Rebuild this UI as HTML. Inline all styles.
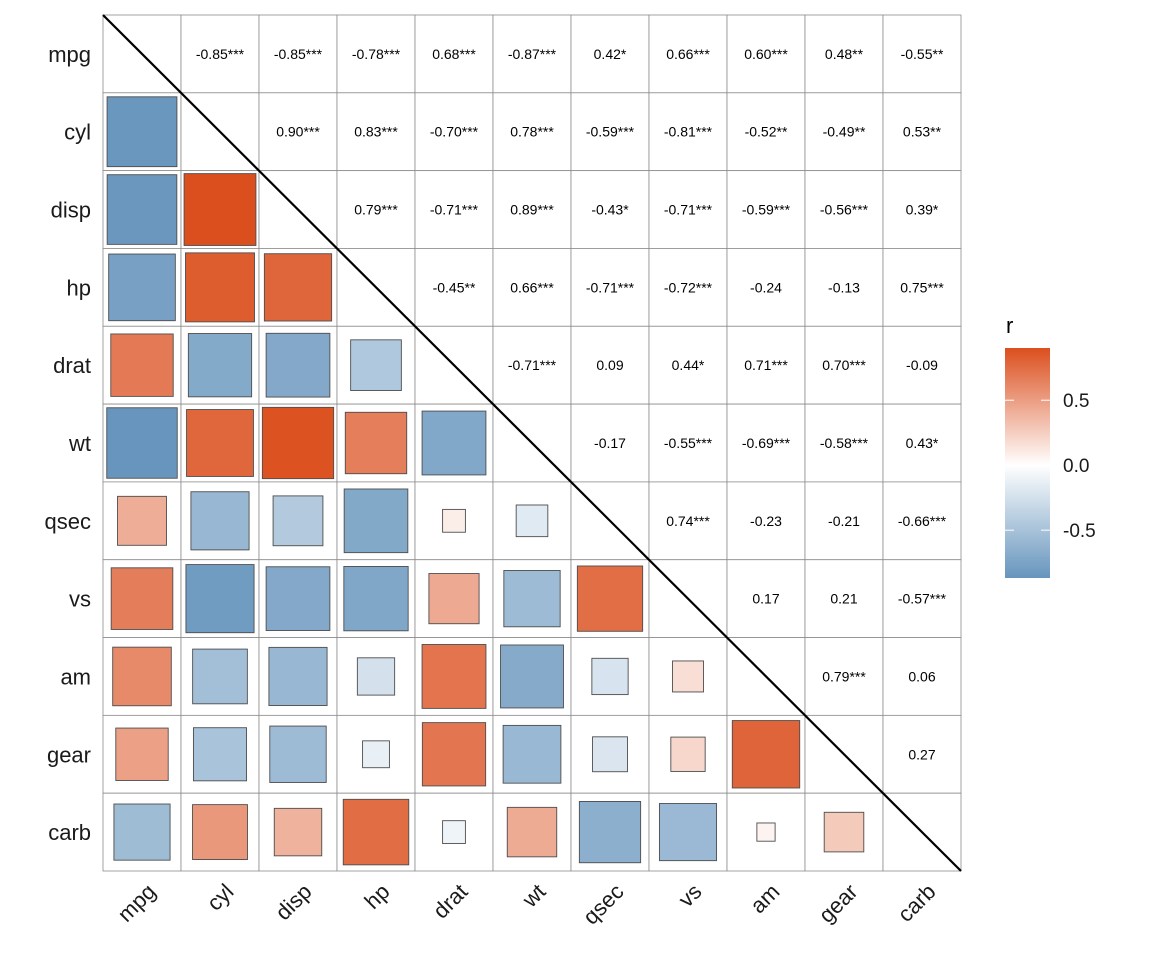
<!DOCTYPE html>
<html><head><meta charset="utf-8"><style>
html,body{margin:0;padding:0;background:#fff;}
svg{display:block;font-family:"Liberation Sans",Arial,sans-serif;}
</style></head><body>
<svg id="chart" width="1152" height="960" viewBox="0 0 1152 960" xmlns="http://www.w3.org/2000/svg">
<defs><linearGradient id="grad" x1="0" y1="1" x2="0" y2="0">
<stop offset="0" stop-color="#6795bd"/><stop offset="0.49" stop-color="#ffffff"/><stop offset="1" stop-color="#db4f1e"/>
</linearGradient></defs>
<g id="cells"></g>
</svg>
<script>
const vars = ["mpg","cyl","disp","hp","drat","wt","qsec","vs","am","gear","carb"];
const corrRows = [
 [-0.852,-0.848,-0.776,0.681,-0.868,0.419,0.664,0.600,0.480,-0.551],
 [0.902,0.832,-0.700,0.782,-0.591,-0.811,-0.523,-0.493,0.527],
 [0.791,-0.710,0.888,-0.434,-0.710,-0.591,-0.556,0.394],
 [-0.449,0.659,-0.708,-0.723,-0.243,-0.126,0.750],
 [-0.712,0.091,0.440,0.713,0.700,-0.091],
 [-0.175,-0.554,-0.692,-0.583,0.428],
 [0.745,-0.230,-0.213,-0.656],
 [0.168,0.206,-0.570],
 [0.794,0.058],
 [0.274]
];
const starRows = [
 ["***","***","***","***","***","*","***","***","**","**"],
 ["***","***","***","***","***","***","**","**","**"],
 ["***","***","***","*","***","***","***","*"],
 ["**","***","***","***","","","***"],
 ["***","","*","***","***",""],
 ["","***","***","***","*"],
 ["***","","","***"],
 ["","","***"],
 ["***",""],
 [""]
];
const legendTicks = [0.5, 0.0, -0.5];

const NS="http://www.w3.org/2000/svg";
const g=document.getElementById('cells');
const x0=103,x1=961,y0=15,y1=871,n=vars.length;
const cw=(x1-x0)/n, ch=(y1-y0)/n;
const all=corrRows.flat();
const rmin=Math.min(...all), rmax=Math.max(...all);
function mk(t,a,p){const e=document.createElementNS(NS,t);for(const k in a)e.setAttribute(k,a[k]);(p||g).appendChild(e);return e;}
function lerp(a,b,t){return a.map((v,i)=>Math.round(v+(b[i]-v)*t));}
function color(r){const lo=[103,149,189],hi=[219,79,30],w=[255,255,255];
 const c=r<0?lerp(w,lo,r/rmin):lerp(w,hi,r/rmax);return `rgb(${c[0]},${c[1]},${c[2]})`;}
function corr(i,j){if(i>j)[i,j]=[j,i];return corrRows[i][j-i-1];}
function stars(i,j){return starRows[i][j-i-1];}
for(let i=0;i<n;i++)for(let j=0;j<n;j++){
 const cx=x0+j*cw, cy=y0+i*ch;
 const cell=mk('rect',{x:cx,y:cy,width:cw,height:ch,fill:'#fff',stroke:'#8c8c8c','stroke-width':0.8});
 
 
 if(i===j)continue;
 const r=corr(i,j);
 if(i>j){
  const s=Math.sqrt(Math.abs(r))*cw*0.97;
  const sq=mk('rect',{x:cx+cw/2-s/2,y:cy+ch/2-s/2,width:s,height:s,fill:color(r),stroke:'#4d4d4d','stroke-width':0.9});
  
  
 } else {
  const t=mk('text',{x:cx+cw/2,y:cy+ch/2+5,'text-anchor':'middle','font-size':14,fill:'#000'});
  t.textContent=r.toFixed(2)+stars(i,j);
  
  
 }
}
const diag=mk('line',{x1:x0,y1:y0,x2:x1,y2:y1,stroke:'#000','stroke-width':2.2});


for(let i=0;i<n;i++){
 const yl=mk('text',{x:x0-12,y:y0+i*ch+ch/2+8,'text-anchor':'end','font-size':22,fill:'#1a1a1a'});
 yl.textContent=vars[i];
 
 
 const xx=x0+i*cw+cw/2+15, yy=y1+22;
 const xl=mk('text',{x:xx,y:yy,'text-anchor':'end','font-size':22,fill:'#1a1a1a',transform:`rotate(-45 ${xx} ${yy})`});
 xl.textContent=vars[i];
 
 
}
const lx=1005,ly0=348,ly1=578,lw=45;
const lt=mk('text',{x:1006,y:333,'font-size':22,fill:'#000'});
lt.textContent='r';


const gb=mk('rect',{x:lx,y:ly0,width:lw,height:ly1-ly0,fill:'url(#grad)'});


function ly(v){return ly1-(v-rmin)/(rmax-rmin)*(ly1-ly0);}
legendTicks.forEach(v=>{
 const y=ly(v);
 mk('line',{x1:lx,y1:y,x2:lx+9,y2:y,stroke:'#fff','stroke-width':1});
 mk('line',{x1:lx+lw-9,y1:y,x2:lx+lw,y2:y,stroke:'#fff','stroke-width':1});
 const t=mk('text',{x:1063,y:y+7,'font-size':19,fill:'#1a1a1a'});
 t.textContent=v.toFixed(1);
 
 
});
</script>
</body></html>
